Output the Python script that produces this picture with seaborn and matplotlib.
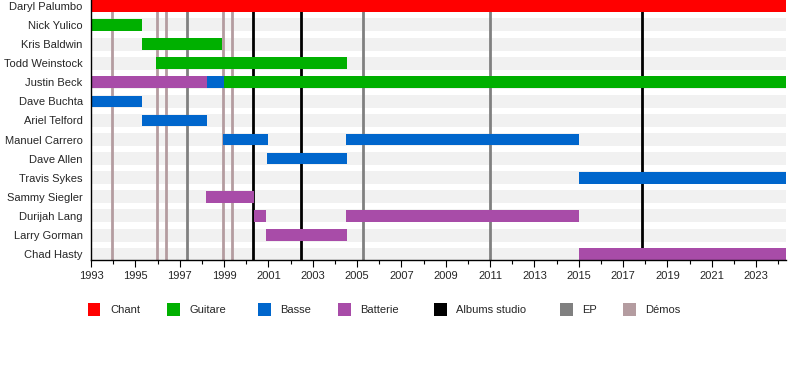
import pandas as pd
import seaborn as sns
import matplotlib.pyplot as plt
from matplotlib.patches import Rectangle

# Members, top to bottom
members = ['Daryl Palumbo', 'Nick Yulico', 'Kris Baldwin', 'Todd Weinstock',
           'Justin Beck', 'Dave Buchta', 'Ariel Telford', 'Manuel Carrero',
           'Dave Allen', 'Travis Sykes', 'Sammy Siegler', 'Durijah Lang',
           'Larry Gorman', 'Chad Hasty']

end_date = 2024.35

# One row per stint
stint_member = ['Daryl Palumbo', 'Nick Yulico', 'Kris Baldwin', 'Todd Weinstock',
                'Justin Beck', 'Justin Beck', 'Justin Beck', 'Dave Buchta',
                'Ariel Telford', 'Manuel Carrero', 'Manuel Carrero', 'Dave Allen',
                'Travis Sykes', 'Sammy Siegler', 'Durijah Lang', 'Durijah Lang',
                'Larry Gorman', 'Chad Hasty']
stint_role = ['Chant', 'Guitare', 'Guitare', 'Guitare',
              'Batterie', 'Basse', 'Guitare', 'Basse',
              'Basse', 'Basse', 'Basse', 'Basse',
              'Basse', 'Batterie', 'Batterie', 'Batterie',
              'Batterie', 'Batterie']
stint_start = [1993.0, 1993.0, 1995.29, 1995.93,
               1993.0, 1998.25, 1999.0, 1993.0,
               1995.29, 1998.97, 2004.5, 2000.95,
               2015.0, 1998.2, 2000.37, 2004.5,
               2000.88, 2015.0]
stint_end = [end_date, 1995.29, 1998.9, 2004.53,
             1998.25, 1999.0, end_date, 1995.29,
             1998.25, 2000.97, 2015.0, 2004.53,
             end_date, 2000.37, 2000.88, 2015.0,
             2004.53, end_date]

# Releases
albums = [2000.32, 2002.47, 2017.87]
eps = [1997.31, 2005.27, 2011.0]
demos = [1993.96, 1995.96, 1996.37, 1998.97, 1999.37]

role_colors = {'Chant': '#ff0000', 'Guitare': '#00b000', 'Basse': '#0066cc',
               'Batterie': '#a84ca8'}
legend_labels = ['Chant', 'Guitare', 'Basse', 'Batterie', 'Albums studio', 'EP', 'Démos']
legend_colors = ['#ff0000', '#00b000', '#0066cc', '#a84ca8', '#000000', '#808080', '#b49ca0']
legend_x = [88, 167, 258, 338, 434, 560, 623]  # pixel positions of legend squares

stints = pd.DataFrame({'member': stint_member, 'role': stint_role,
                       'start': stint_start, 'end': stint_end})
stints['row'] = stints['member'].map({m: i for i, m in enumerate(members)})

sns.set_style('white')
plt.rcParams['font.family'] = ['Liberation Sans', 'DejaVu Sans']
plt.rcParams['font.size'] = 8

W, H = 800, 380
fig = plt.figure(figsize=(W / 100, H / 100), dpi=100)
ax = fig.add_axes([91 / W, 1 - 260 / H, (786 - 91) / W, 260 / H])

# background bands
for i in range(len(members)):
    ax.barh(i, end_date - 1993, left=1993, height=0.68, color='#f1f1f1',
            edgecolor='none', zorder=0)

# release lines
for x in demos:
    ax.axvline(x, color='#b49ca0', lw=2, zorder=1)
for x in eps:
    ax.axvline(x, color='#808080', lw=2, zorder=1)
for x in albums:
    ax.axvline(x, color='#000000', lw=2, zorder=1)

# member bars
for _, r in stints.iterrows():
    ax.barh(r['row'], r['end'] - r['start'], left=r['start'], height=0.61,
            color=role_colors[r['role']], edgecolor='none', zorder=2)

ax.set_xlim(1993, end_date)
ax.set_ylim(len(members) - 1 + 0.305, -0.305)
ax.set_yticks(range(len(members)))
ax.set_yticklabels(members)
ax.set_xticks(range(1993, 2024, 2))
ax.set_xticks(range(1993, 2025), minor=True)
ax.tick_params(axis='y', length=0, pad=6)
ax.tick_params(axis='x', which='major', direction='out', length=5, width=0.8,
               color='black', pad=3, bottom=True)
ax.tick_params(axis='x', which='minor', direction='out', length=3, width=0.8,
               color='black', bottom=True)
for s in ['top', 'right']:
    ax.spines[s].set_visible(False)
for s in ['left', 'bottom']:
    ax.spines[s].set_color('black')
    ax.spines[s].set_linewidth(1)
ax.grid(False)

# legend
for lbl, col, x in zip(legend_labels, legend_colors, legend_x):
    fig.add_artist(Rectangle((x / W, 1 - 315.5 / H), 12.5 / W, 12.5 / H,
                             transform=fig.transFigure, color=col, lw=0))
    fig.text((x + 22) / W, 1 - 310 / H, lbl, va='center', ha='left', fontsize=8)

fig.savefig('out.png', dpi=100)
